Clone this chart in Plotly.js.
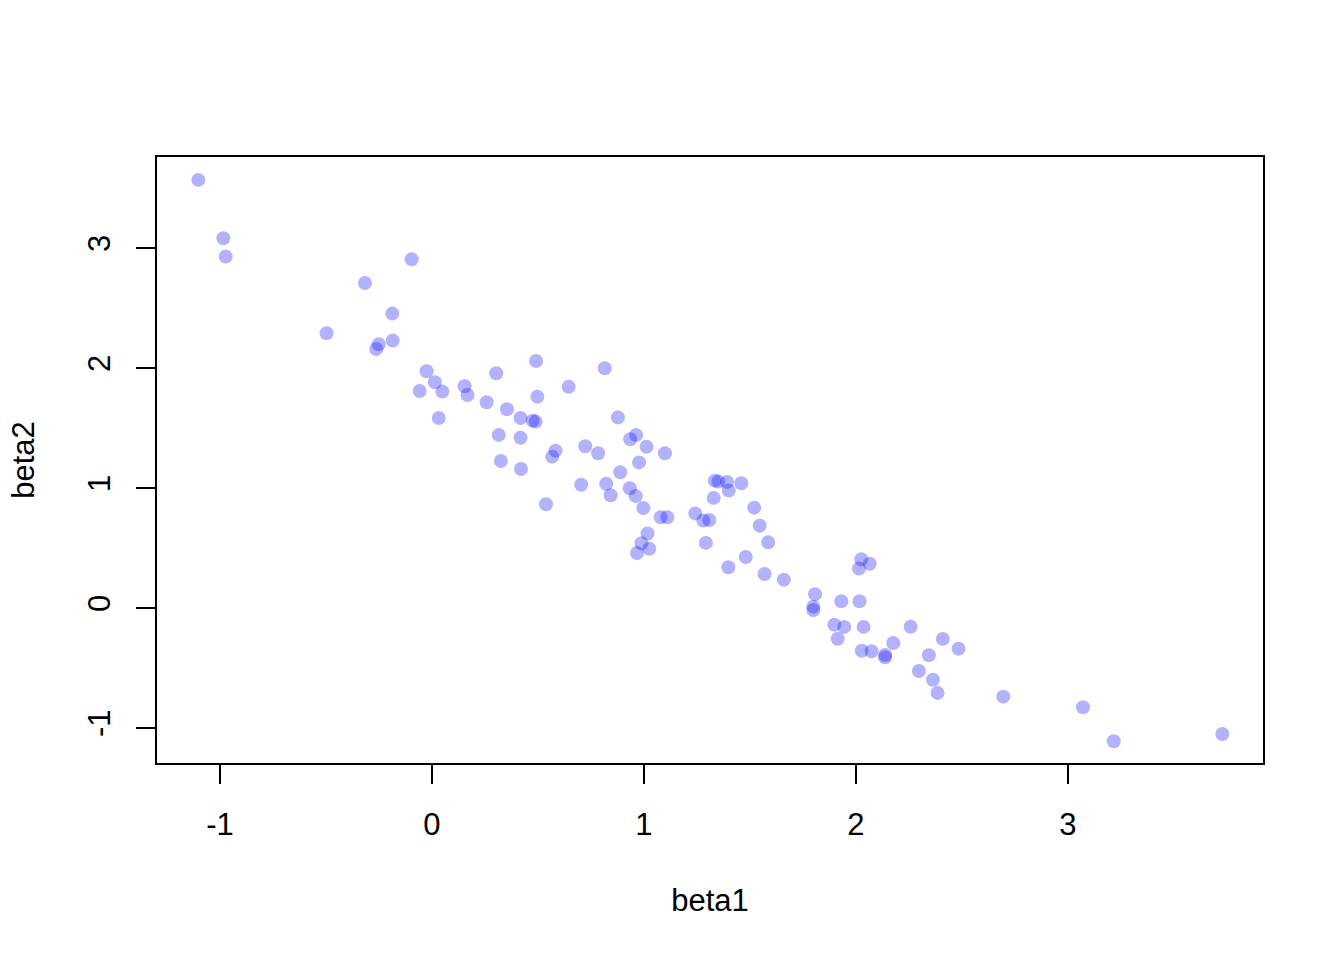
<!DOCTYPE html>
<html>
<head>
<meta charset="utf-8">
<script src="https://cdn.plot.ly/plotly-3.0.1.min.js"></script>
<style>
html, body { margin: 0; padding: 0; background: #ffffff; }
#chart { width: 1344px; height: 960px; }
</style>
</head>
<body>
<div id="chart"></div>
<script>
const beta1 = [
  -1.102, -0.984, -0.973, -0.096, -0.316, -0.187, -0.497, -0.251, -0.263, -0.185,
  -0.025, 0.014, -0.058, 0.049, 0.032, 0.154, 0.168, 0.303, 0.491, 0.815,
  0.645, 0.258, 0.497, 0.354, 0.418, 0.475, 0.489, 0.877, 0.315, 0.418,
  0.583, 0.567, 0.723, 0.784, 0.963, 0.935, 1.012, 1.099, 0.977, 0.325,
  0.420, 0.888, 0.704, 0.822, 0.843, 0.933, 0.961, 0.997, 0.538, 1.079,
  1.110, 1.242, 1.017, 0.988, 1.025, 0.967, 1.334, 1.351, 1.392, 1.400,
  1.459, 1.329, 1.280, 1.308, 1.292, 1.520, 1.546, 1.586, 1.480, 1.398,
  1.569, 1.660, 1.807, 2.025, 2.014, 2.065, 1.799, 1.799, 1.931, 2.017,
  1.898, 1.945, 1.914, 2.036, 2.258, 2.027, 2.074, 2.138, 2.137, 2.176,
  2.410, 2.484, 2.344, 2.297, 2.363, 2.385, 2.695, 3.071, 3.216, 3.728
];
const beta2 = [
  3.567, 3.081, 2.928, 2.906, 2.708, 2.453, 2.289, 2.198, 2.158, 2.228,
  1.973, 1.881, 1.808, 1.803, 1.583, 1.848, 1.775, 1.956, 2.058, 1.998,
  1.844, 1.714, 1.761, 1.656, 1.583, 1.561, 1.553, 1.588, 1.442, 1.419,
  1.311, 1.261, 1.348, 1.289, 1.442, 1.406, 1.344, 1.289, 1.213, 1.225,
  1.158, 1.131, 1.027, 1.035, 0.939, 0.998, 0.932, 0.833, 0.864, 0.756,
  0.756, 0.788, 0.620, 0.539, 0.494, 0.458, 1.061, 1.053, 1.050, 0.978,
  1.039, 0.917, 0.728, 0.733, 0.542, 0.836, 0.686, 0.548, 0.425, 0.339,
  0.283, 0.236, 0.115, 0.406, 0.328, 0.369, 0.011, -0.017, 0.056, 0.056,
  -0.139, -0.158, -0.256, -0.158, -0.156, -0.356, -0.361, -0.392, -0.411, -0.292,
  -0.258, -0.339, -0.394, -0.525, -0.598, -0.708, -0.739, -0.828, -1.111, -1.050
];
const xTicks = [-1, 0, 1, 2, 3];
const yTicks = [-1, 0, 1, 2, 3];
const xLabel = "beta1";
const yLabel = "beta2";

const font = { family: "Liberation Sans, Arial, Helvetica, sans-serif", size: 31, color: "#000000" };

const trace = {
  type: "scatter",
  mode: "markers",
  x: beta1,
  y: beta2,
  marker: { size: 14, color: "rgba(0,0,255,0.3)", line: { width: 0 } },
  hoverinfo: "x+y"
};

const layout = {
  width: 1344,
  height: 960,
  paper_bgcolor: "#ffffff",
  plot_bgcolor: "#ffffff",
  showlegend: false,
  font: font,
  margin: { l: 157, r: 81, t: 157, b: 197, pad: 0 },
  xaxis: {
    range: [-1.297, 3.92],
    tickvals: xTicks,
    ticktext: xTicks.map(String),
    ticks: "outside",
    ticklen: 19,
    tickwidth: 2,
    tickcolor: "#000000",
    showline: true,
    mirror: true,
    linecolor: "#000000",
    linewidth: 2,
    showgrid: false,
    zeroline: false,
    tickfont: font,
    ticklabelstandoff: 14,
    title: { text: xLabel, font: font, standoff: 48 },
    automargin: false
  },
  yaxis: {
    range: [-1.292, 3.758],
    tickvals: yTicks,
    ticktext: yTicks.map(String),
    ticks: "outside",
    ticklen: 19,
    tickwidth: 2,
    tickcolor: "#000000",
    tickangle: -90,
    showline: true,
    mirror: true,
    linecolor: "#000000",
    linewidth: 2,
    showgrid: false,
    zeroline: false,
    tickfont: font,
    ticklabelstandoff: 14,
    title: { text: yLabel, font: font, standoff: 38 },
    automargin: false
  }
};

Plotly.newPlot("chart", [trace], layout, { displayModeBar: false, staticPlot: true });
</script>
</body>
</html>
